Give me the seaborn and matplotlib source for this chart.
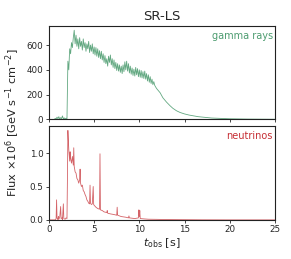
import numpy as np
import pandas as pd
import seaborn as sns
import matplotlib.pyplot as plt

# gamma rays: quiet start, noisy plateau, smooth decay
gamma_t_early = np.round(np.arange(0.0, 11.75, 0.1), 2)
gamma_early = [0, 0, 0, 0, 0, 0, 0, 8, 3, 18, 5, 22, 2, 14, 6, 28, 4, 12, 3, 10, 5,
               470, 400, 570, 530, 620, 580, 660, 720, 610, 680, 590, 650, 570, 660,
               590, 630, 560, 650, 580, 620, 550, 610, 570, 630, 540, 600, 550, 610,
               530, 585, 520, 580, 510, 570, 500, 555, 490, 550, 480, 530, 460, 515,
               450, 490, 430, 510, 460, 520, 440, 490, 420, 480, 410, 460, 395, 450,
               390, 440, 380, 430, 370, 440, 385, 465, 400, 470, 390, 450, 375, 430,
               365, 415, 355, 405, 350, 420, 360, 410, 345, 400, 340, 395, 335, 385,
               330, 390, 325, 370, 310, 360, 300, 345, 290, 325, 280, 305, 275]
gamma_t_tail = [11.9, 12.3, 12.6, 13.0, 13.4, 13.7, 14.1, 14.5, 15.0, 15.5, 16.5,
                18.0, 20.0, 22.0, 25.0]
gamma_tail = [250, 215, 175, 140, 110, 90, 70, 56, 44, 35, 22, 11, 5, 2.5, 1]

# neutrinos: spiky curve
nu_t = [0, 0.7, 0.8, 0.85, 0.9, 1.0, 1.05, 1.1, 1.2, 1.3, 1.35, 1.45, 1.5, 1.6,
        1.65, 1.8, 1.9, 2.0, 2.05, 2.1, 2.15, 2.2, 2.3, 2.35, 2.4, 2.5, 2.6, 2.7,
        2.75, 2.8, 2.9, 3.0, 3.1, 3.2, 3.3, 3.4, 3.45, 3.5, 3.6, 3.7, 3.8, 3.9,
        4.0, 4.1, 4.2, 4.3, 4.4, 4.5, 4.55, 4.6, 4.7, 4.8, 4.9, 4.95, 5.0, 5.2,
        5.4, 5.6, 5.65, 5.7, 5.9, 6.1, 6.4, 6.45, 6.5, 6.8, 7.2, 7.5, 7.55, 7.6,
        8.0, 8.5, 8.8, 8.85, 8.9, 9.5, 9.9, 9.95, 10.0, 10.05, 10.1, 10.5, 11.0,
        12.0, 13.0, 15.0, 17.0, 20.0, 25.0]
nu = [0, 0, 0.02, 0.30, 0.03, 0.0, 0.05, 0.01, 0.04, 0.20, 0.02, 0.03, 0.0, 0.24,
      0.02, 0.01, 0.03, 0.02, 0.60, 1.34, 1.20, 1.05, 0.88, 1.02, 0.92, 0.85, 0.95,
      0.82, 1.08, 0.80, 0.72, 0.70, 0.62, 0.60, 0.55, 0.60, 0.76, 0.55, 0.50, 0.52,
      0.44, 0.42, 0.38, 0.35, 0.30, 0.28, 0.25, 0.24, 0.52, 0.25, 0.23, 0.24, 0.50,
      0.23, 0.22, 0.19, 0.17, 0.16, 0.99, 0.15, 0.14, 0.12, 0.11, 0.14, 0.10, 0.09,
      0.08, 0.07, 0.19, 0.07, 0.05, 0.04, 0.03, 0.06, 0.03, 0.02, 0.03, 0.15, 0.05,
      0.14, 0.02, 0.015, 0.01, 0.008, 0.005, 0.003, 0.001, 0, 0]

gamma_df = pd.DataFrame({"t": list(gamma_t_early) + gamma_t_tail,
                         "flux": gamma_early + gamma_tail})
nu_df = pd.DataFrame({"t": nu_t, "flux": nu})

sns.set_style("ticks")
plt.rcParams["font.family"] = ["DejaVu Sans"]

fig, (ax1, ax2) = plt.subplots(2, 1, sharex=True, figsize=(2.91, 2.59), dpi=100)
fig.subplots_adjust(left=0.168, right=0.945, top=0.9, bottom=0.151, hspace=0.075)

green = "#2e8b57"
red = "#c62f35"

sns.lineplot(data=gamma_df, x="t", y="flux", ax=ax1, color=green, lw=0.6,
             alpha=0.75, sort=False, estimator=None)
sns.lineplot(data=nu_df, x="t", y="flux", ax=ax2, color=red, lw=0.6,
             alpha=0.75, sort=False, estimator=None)

ax1.set_ylim(0, 755)
ax1.set_yticks([0, 200, 400, 600])
ax2.set_ylim(0, 1.4)
ax2.set_yticks([0.0, 0.5, 1.0])
ax2.set_xlim(0, 25)
ax2.set_xticks([0, 5, 10, 15, 20, 25])

for ax in (ax1, ax2):
    ax.set_xlabel("")
    ax.set_ylabel("")
    ax.tick_params(labelsize=6.3, length=2.5, width=0.6, pad=1.5)
    for s in ax.spines.values():
        s.set_linewidth(0.8)
        s.set_color("#222222")

ax1.text(0.99, 0.95, "gamma rays", transform=ax1.transAxes, ha="right", va="top",
         fontsize=7, color=green, alpha=0.85)
ax2.text(0.99, 0.95, "neutrinos", transform=ax2.transAxes, ha="right", va="top",
         fontsize=7, color=red)

ax1.set_title("SR-LS", fontsize=9.5, pad=4)
ax2.set_xlabel(r"$t_{\rm obs}$ [s]", fontsize=8, labelpad=1)
fig.text(0.045, 0.525, r"Flux $\times 10^6$ [GeV s$^{-1}$ cm$^{-2}$]", rotation=90,
         ha="center", va="center", fontsize=8.2)

fig.savefig("out.png", dpi=100)
